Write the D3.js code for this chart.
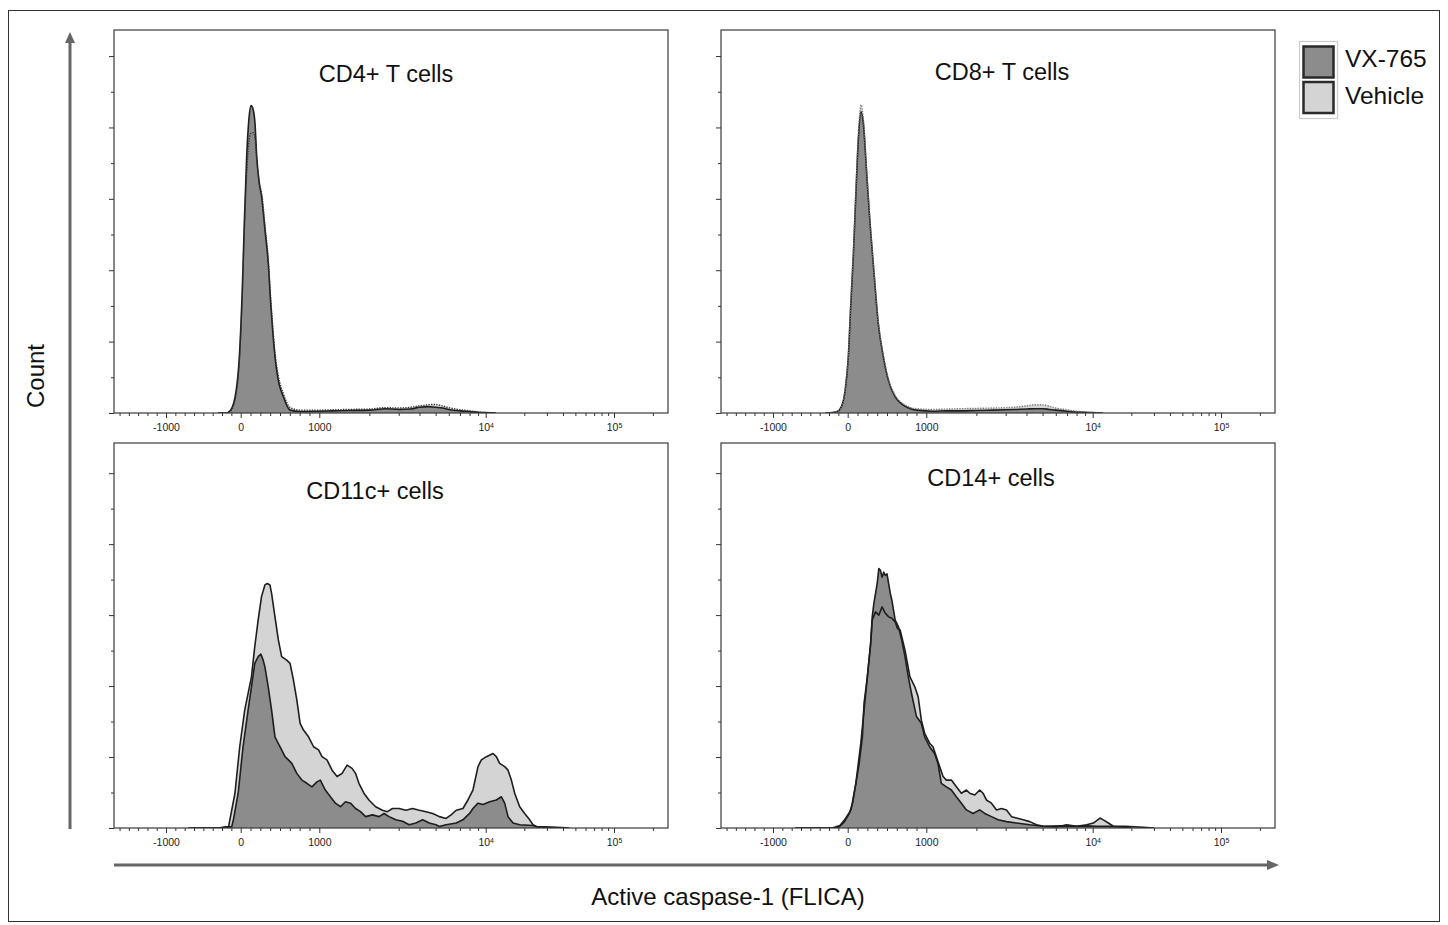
<!DOCTYPE html>
<html><head><meta charset="utf-8">
<script src="https://cdn.jsdelivr.net/npm/d3@7"></script>
<style>body{margin:0;background:#fff} svg{display:block}</style>
</head><body><svg id="c" width="1448" height="925"></svg>
<script>
// ---------------- DATA ----------------
const seriesNames = ["VX-765", "Vehicle"];
const panelTitles = ["CD4+ T cells", "CD8+ T cells", "CD11c+ cells", "CD14+ cells"];
const majorTicks = [-1000, 0, 1000, 10000, 100000];
const tickLabels = ["-1000", "0", "1000", "10^4", "10^5"];
const linearMinorTicks = [-1625,-1500,-1375,-1250,-1125,-875,-750,-625,-500,-375,-250,-125,125,250,375,500,625,750,875];
const logMinorTicks = [2000,3000,4000,5000,6000,7000,8000,9000,20000,30000,40000,50000,60000,70000,80000,90000,200000];
const yMajorTicks = [0, 20, 40, 60, 80, 100];
const yMinorTicks = [10, 30, 50, 70, 90];

// CD4+ T cells (shared intensity grid)
const cd4X = [-300,-200,-136,-60,-18,20,46,76,105,131,160,182,204,237,267,309,351,382,407,436,478,542,627,754,1000,1200,1500,2000,2500,3000,3500,4000,4500,5000,5500,6000,7000,8000,9000,10000,12000];
const cd4Vx = [0,0,0.8,6.4,15.8,34.5,53.2,71.8,82.5,86.1,84.9,81.1,71.8,64.3,60.5,51.3,41.9,30.7,23.2,15.8,9.2,4.6,0.8,0.4,0.5,0.6,0.7,0.8,1.2,1.0,1.1,1.6,1.8,1.6,1.4,1.0,0.6,0.4,0.2,0.1,0];
const cd4Veh = [0,0,0.5,5.5,14.5,33,51,67,76,78.3,78.5,77,71,64.5,61.5,52.5,43,32,24.5,17,10.5,5.5,1.6,0.8,0.8,0.9,1.0,1.1,1.5,1.4,1.6,2.0,2.3,2.4,2.0,1.5,0.9,0.6,0.3,0.1,0];

// CD8+ T cells
const cd8X = [-300,-204,-140,-76,-34,8,38,71,106,135,169,199,242,284,335,389,453,517,602,707,878,1100,1330,1600,2000,2500,3000,3500,4000,4500,5000,5500,6000,7000,8000,9000,10000,12000];
const cd8Vx = [0,0.1,0.4,2.2,6.4,15.8,29.8,43.8,62.4,76.5,84.4,81.2,67.0,53.2,39.2,25.1,15.8,9.2,4.6,2.2,0.8,0.5,0.6,0.6,0.7,0.8,0.9,1.0,1.1,1.2,1.2,1.0,0.8,0.5,0.3,0.2,0.1,0];
const cd8Veh = [0,0.1,0.4,2.3,6.6,16.2,30.5,44.8,63.5,78,86.3,82.5,67.8,53.8,39.6,25.6,16.2,9.6,5.0,2.6,1.2,1.0,1.1,1.2,1.3,1.4,1.5,1.7,2.0,2.3,2.3,1.9,1.4,0.9,0.5,0.3,0.1,0];

// CD11c+ cells
const cd11cVxX = [-700,-300,-120,-98,-34,30,94,137,179,222,256,286,308,350,393,436,479,521,564,607,650,714,778,842,906,970,1014,1087,1166,1250,1340,1436,1540,1651,1770,1897,2083,2285,2450,2625,2882,3163,3468,3806,4177,4580,5030,5268,5778,6650,7295,8000,8380,8990,9636,10740,12100,13250,14060,14930,16330,18410,23390,24850,30000,40000];
const cd11cVxY = [0,0,0.4,2.3,9.8,22.9,33.2,39.8,46.4,48.3,49.0,47.3,45.4,39.8,33.2,25.7,23.8,22.0,20.1,19.2,18.2,15.4,13.5,12.6,11.6,13.0,13.5,10.7,8.8,7.0,6.0,7.4,7.0,5.5,4.6,3.2,3.7,3.2,4.1,3.2,2.3,1.9,0.9,1.4,2.3,1.4,0.9,0.4,0.9,1.4,2.3,4.1,5.5,7.0,6.6,7.4,7.9,8.8,7.0,3.2,1.4,0.9,0.7,0.4,0.2,0];
const cd11cVehX = [-700,-300,-162,-77,-13,51,137,179,222,265,308,338,372,393,436,479,521,585,628,671,714,756,799,863,927,991,1038,1112,1193,1279,1371,1469,1574,1651,1730,1854,1987,2181,2393,2566,2752,3020,3314,3635,3989,4377,4801,5268,5778,6196,6650,7295,7822,8380,8990,9418,10120,11400,12100,12850,14060,14930,15850,16830,18410,20130,22020,23390,24850,31550,38900,45000];
const cd11cVehY = [0,0,0.4,9.8,22.9,33.2,42.6,51.1,58.6,65.2,68.5,68.9,68.5,66.1,59.5,53.0,48.3,47.3,46.4,41.7,36.1,29.5,27.6,25.7,22.9,22.0,20.1,19.2,16.3,14.5,15.4,17.7,16.8,15.4,12.6,9.8,7.9,6.0,5.0,4.6,5.5,5.5,5.0,5.5,5.0,4.6,4.1,3.2,2.7,3.7,5.0,5.5,7.9,10.7,17.3,19.2,20.1,21.0,20.1,18.2,17.3,16.3,13.5,9.8,6.0,4.1,2.3,0.9,0.4,0.3,0.1,0];

// CD14+ cells
const cd14VxX = [-700,-208,-125,-42,21,62,104,146,187,208,250,292,312,333,375,396,417,437,458,479,500,521,542,562,604,646,687,729,771,812,875,937,979,1047,1122,1175,1231,1320,1415,1516,1625,1742,1910,2095,2245,2464,2702,3034,3483,4188,5046,6353,8011,9204,10740,13650,17340,20000];
const cd14VxY = [0,0,0.1,1.8,4.1,7.0,12.6,18.2,25.7,35.1,42.6,52.0,59.5,63.3,68.9,73.1,72.6,70.7,72.1,71.2,71.6,68.9,66.1,64.2,58.6,56.7,53.0,48.3,42.6,37.9,31.4,29.5,25.7,22.9,21.0,18.2,12.6,11.6,10.7,8.8,7.0,5.1,4.1,5.1,4.1,3.2,2.3,1.8,1.4,0.9,0.5,0.6,0.5,0.6,0.5,0.5,0.2,0];
const cd14VehX = [-700,-208,-104,-42,42,104,167,208,250,292,312,354,396,437,479,521,562,604,633,667,729,792,854,896,937,979,1047,1097,1149,1203,1260,1320,1415,1516,1625,1742,1824,1955,2095,2193,2297,2464,2642,2831,3034,3251,3483,3820,4188,4600,5046,6067,6966,8011,9204,10120,11400,12100,13250,14490,17870,24850,30000];
const cd14VehY = [0,0,0.7,2.3,5.1,12.6,23.9,33.2,42.6,52.0,58.6,60.9,60.0,62.3,60.5,59.5,59.1,58.1,56.2,55.8,50.1,42.6,39.8,37.0,30.4,26.7,23.9,22.9,20.1,17.3,14.5,13.5,13.5,11.6,9.8,10.7,9.8,9.3,10.7,9.8,7.9,7.0,5.1,5.5,5.1,3.2,2.8,2.3,1.8,0.9,0.5,0.3,0.9,0.5,0.9,1.4,2.8,2.3,1.4,0.5,0.5,0.2,0];

// ---------------- LAYOUT / STYLE ----------------
const FONT = '"Liberation Sans", Arial, Helvetica, sans-serif';
const VX_FILL = "#8c8c8c", VEH_FILL = "#d4d4d4", LINE = "#1e1e1e", FRAME = "#3a3a3a";
const PW = 554;
// biexponential-like display transform: linear below 1000, log above
const gT = v => v <= 1000 ? v / 1000 : 1 + Math.log10(v / 1000);
const xKnots = [-1.7, -1, 0, 1, 2, 3, 3.418];
const xRange = [0, 52, 126.7, 205.3, 371.7, 500, PW];

const panels = [
  {title: panelTitles[0], left: 114, top: 30, bottom: 413, yMax: 107.3, tx: 272, ty: 82,
   vx: d3.zip(cd4X, cd4Vx), veh: d3.zip(cd4X, cd4Veh), smooth: true, vehLine: "#333"},
  {title: panelTitles[1], left: 721, top: 30, bottom: 413, yMax: 107.3, tx: 281, ty: 80,
   vx: d3.zip(cd8X, cd8Vx), veh: d3.zip(cd8X, cd8Veh), smooth: true, vehLine: "#777"},
  {title: panelTitles[2], left: 114, top: 443, bottom: 828, yMax: 108.5, tx: 261, ty: 499,
   vx: d3.zip(cd11cVxX, cd11cVxY), veh: d3.zip(cd11cVehX, cd11cVehY), smooth: false},
  {title: panelTitles[3], left: 721, top: 443, bottom: 828, yMax: 108.5, tx: 270, ty: 486,
   vx: d3.zip(cd14VxX, cd14VxY), veh: d3.zip(cd14VehX, cd14VehY), smooth: false}
];

const svg = d3.select("#c");
svg.append("rect").attr("x", 8.5).attr("y", 10.5).attr("width", 1431).attr("height", 911)
  .attr("fill", "none").attr("stroke", "#333").attr("stroke-width", 1);

panels.forEach((p, i) => {
  const g = svg.append("g").attr("transform", `translate(${p.left},0)`);
  const x = d3.scaleLinear().domain(xKnots).range(xRange);
  const y = d3.scaleLinear().domain([0, p.yMax]).range([p.bottom, p.top]);
  const clipId = "clip" + i;
  g.append("clipPath").attr("id", clipId).append("rect")
    .attr("x", 0).attr("y", p.top).attr("width", PW).attr("height", p.bottom - p.top);
  const curve = p.smooth ? d3.curveMonotoneX : d3.curveLinear;
  const area = d3.area().x(d => x(gT(d[0]))).y0(y(0)).y1(d => y(d[1])).curve(curve);
  const line = d3.line().x(d => x(gT(d[0]))).y(d => y(d[1])).curve(curve);
  const plot = g.append("g").attr("clip-path", `url(#${clipId})`);
  plot.append("path").datum(p.veh).attr("d", area).attr("fill", VEH_FILL);
  plot.append("path").datum(p.vx).attr("d", area).attr("fill", VX_FILL);
  plot.append("path").datum(p.vx).attr("d", line).attr("fill", "none")
    .attr("stroke", LINE).attr("stroke-width", 1.6).attr("stroke-linejoin", "round");
  if (p.smooth) {
    plot.append("path").datum(p.veh).attr("d", line).attr("fill", "none")
      .attr("stroke", p.vehLine).attr("stroke-width", 1.4).attr("stroke-dasharray", "1.3,1.3");
  } else {
    plot.append("path").datum(p.veh).attr("d", line).attr("fill", "none")
      .attr("stroke", LINE).attr("stroke-width", 1.6).attr("stroke-linejoin", "round");
  }
  // frame
  g.append("rect").attr("x", 0).attr("y", p.top).attr("width", PW).attr("height", p.bottom - p.top)
    .attr("fill", "none").attr("stroke", FRAME).attr("stroke-width", 1.2);

  // x axis
  const styleAxis = a => { a.select(".domain").remove(); a.selectAll("line").attr("stroke", "#333").attr("stroke-width", 1); };
  g.append("g").attr("transform", `translate(0,${p.bottom})`)
    .call(d3.axisBottom(x).tickValues(linearMinorTicks.concat(logMinorTicks).map(gT)).tickSize(3).tickFormat(""))
    .call(styleAxis);
  const ax = g.append("g").attr("transform", `translate(0,${p.bottom})`)
    .call(d3.axisBottom(x).tickValues(majorTicks.map(gT)).tickSize(5).tickFormat((d, k) => tickLabels[k]))
    .call(styleAxis);
  ax.selectAll("text").attr("font-family", FONT).attr("font-size", 10.5).attr("fill", "#222").attr("y", 11)
    .each(function(d, k) {
      const lab = tickLabels[k];
      if (lab.includes("^")) {
        const [b, e] = lab.split("^");
        const t = d3.select(this).text(b);
        t.append("tspan").attr("dy", "-0.5em").attr("font-size", 7).text(e);
      }
    });

  // y axis
  g.append("g").call(d3.axisLeft(y).tickValues(yMinorTicks).tickSize(3).tickFormat("")).call(styleAxis);
  g.append("g").call(d3.axisLeft(y).tickValues(yMajorTicks).tickSize(5).tickFormat("")).call(styleAxis);

  // title
  g.append("text").attr("x", p.tx).attr("y", p.ty).attr("text-anchor", "middle")
    .attr("font-family", FONT).attr("font-size", 23.5).attr("fill", "#111").text(p.title);
});

// axis arrows
const AR = "#666";
svg.append("line").attr("x1", 70).attr("y1", 829).attr("x2", 70).attr("y2", 42)
  .attr("stroke", AR).attr("stroke-width", 3);
svg.append("path").attr("d", "M70,32 L75,43 L65,43 Z").attr("fill", AR);
svg.append("line").attr("x1", 114).attr("y1", 865).attr("x2", 1268).attr("y2", 865)
  .attr("stroke", AR).attr("stroke-width", 3);
svg.append("path").attr("d", "M1279,865 L1267,860 L1267,870 Z").attr("fill", AR);

svg.append("text").attr("transform", "translate(44,376) rotate(-90)").attr("text-anchor", "middle")
  .attr("font-family", FONT).attr("font-size", 24).attr("fill", "#111").text("Count");
svg.append("text").attr("x", 728).attr("y", 905).attr("text-anchor", "middle")
  .attr("font-family", FONT).attr("font-size", 24).attr("fill", "#111").text("Active caspase-1 (FLICA)");

// legend
const leg = svg.append("g");
leg.append("rect").attr("x", 1299.5).attr("y", 41.5).attr("width", 38).attr("height", 77)
  .attr("fill", "none").attr("stroke", "#ccc").attr("stroke-width", 1.2);
const legFills = [VX_FILL, VEH_FILL];
seriesNames.forEach((n, k) => {
  leg.append("rect").attr("x", 1303.5).attr("y", 46.5 + k * 35.5).attr("width", 30).attr("height", 31)
    .attr("fill", legFills[k]).attr("stroke", "#2a2a2a").attr("stroke-width", 2.5);
  leg.append("text").attr("x", 1345).attr("y", 67 + k * 36.5).attr("font-family", FONT)
    .attr("font-size", 24.5).attr("fill", "#111").text(n);
});
</script>
</body></html>
